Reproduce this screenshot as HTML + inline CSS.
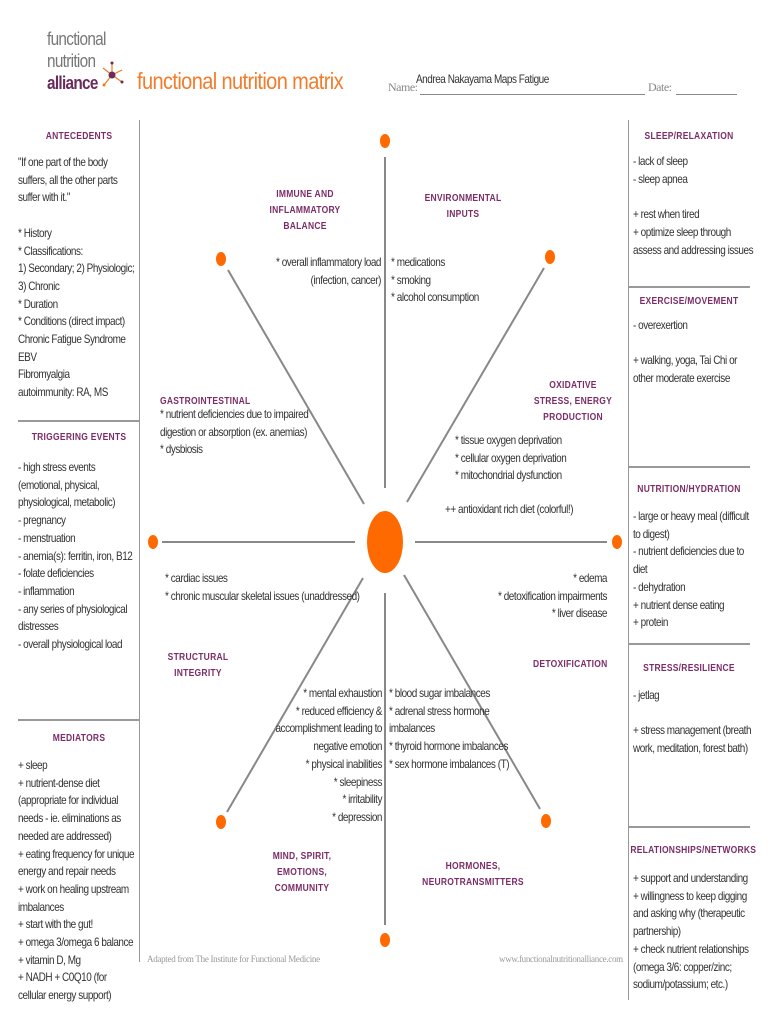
<!DOCTYPE html>
<html><head><meta charset="utf-8"><style>
body{margin:0;background:#fff;width:770px;height:1024px;position:relative;overflow:hidden;font-family:"Liberation Sans",sans-serif}
.t{position:absolute;font-size:12px;line-height:17.7px;letter-spacing:-0.55px;color:#333;white-space:nowrap;transform:scaleX(.83);transform-origin:0 0}
.t.r{text-align:right;transform-origin:100% 0}
.c{text-align:center}
.h{position:absolute;font-size:10px;line-height:16px;font-weight:bold;letter-spacing:0.3px;color:#7b2d67;white-space:nowrap;transform:scaleX(.85);transform-origin:0 0}
.h.c{transform-origin:50% 0}
.ln{position:absolute;background:#999}
</style></head><body>
<div style="position:absolute;left:47px;top:28px;font-size:18px;line-height:22px;color:#777;letter-spacing:-0.8px;transform:scaleX(.85);transform-origin:0 0">functional<br>nutrition</div>
<div style="position:absolute;left:47px;top:72px;font-size:18px;line-height:22px;color:#6b2a5c;font-weight:bold;letter-spacing:-0.8px;transform:scaleX(.85);transform-origin:0 0">alliance</div>
<svg style="position:absolute;left:100px;top:60px" width="24" height="30"><g stroke="#f07a20" stroke-width="1.2"><line x1="12" y1="15" x2="12" y2="3"/><line x1="12" y1="15" x2="22" y2="10"/><line x1="12" y1="15" x2="22" y2="22"/><line x1="12" y1="15" x2="4" y2="25"/><line x1="12" y1="15" x2="3" y2="8"/></g><circle cx="12" cy="15" r="3.5" fill="#6b2a5c"/><circle cx="12" cy="3" r="1.5" fill="#6b2a5c"/><circle cx="22" cy="22" r="1.5" fill="#6b2a5c"/><circle cx="4" cy="25" r="1.5" fill="#f07a20"/></svg>
<div style="position:absolute;left:137px;top:68px;font-size:23px;color:#f47b2a;letter-spacing:-0.7px;transform:scaleX(.87);transform-origin:0 0;white-space:nowrap">functional nutrition matrix</div>
<div style="position:absolute;left:388px;top:80px;font-family:'Liberation Serif',serif;font-size:12px;color:#888;letter-spacing:-0.5px">Name:</div>
<div style="position:absolute;left:420px;top:94px;width:225px;border-top:1px solid #888"></div>
<div class="t" style="left:416px;top:71px">Andrea Nakayama Maps Fatigue</div>
<div style="position:absolute;left:648px;top:80px;font-family:'Liberation Serif',serif;font-size:12px;color:#888;letter-spacing:-0.5px">Date:</div>
<div style="position:absolute;left:676px;top:94px;width:61px;border-top:1px solid #888"></div>

<div class="ln" style="left:139px;top:120px;width:1px;height:842px"></div>
<div class="ln" style="left:18px;top:420px;width:122px;height:2px"></div>
<div class="ln" style="left:18px;top:719px;width:122px;height:2px"></div>
<div class="ln" style="left:628px;top:120px;width:1px;height:880px"></div>
<div class="ln" style="left:628px;top:286px;width:122px;height:2px"></div>
<div class="ln" style="left:628px;top:466px;width:122px;height:2px"></div>
<div class="ln" style="left:628px;top:643px;width:122px;height:2px"></div>
<div class="ln" style="left:628px;top:826px;width:122px;height:2px"></div>

<div class="h c" style="left:18px;width:122px;top:129px">ANTECEDENTS</div>
<div class="t" style="left:18px;top:154px">"If one part of the body<br>suffers, all the other parts<br>suffer with it."<br><br>* History<br>* Classifications:<br>1) Secondary; 2) Physiologic;<br>3) Chronic<br>* Duration<br>* Conditions (direct impact)<br>Chronic Fatigue Syndrome<br>EBV<br>Fibromyalgia<br>autoimmunity: RA, MS</div>
<div class="h c" style="left:18px;width:122px;top:430px">TRIGGERING EVENTS</div>
<div class="t" style="left:18px;top:459px">- high stress events<br>(emotional, physical,<br>physiological, metabolic)<br>- pregnancy<br>- menstruation<br>- anemia(s): ferritin, iron, B12<br>- folate deficiencies<br>- inflammation<br>- any series of physiological<br>distresses<br>- overall physiological load</div>
<div class="h c" style="left:18px;width:122px;top:731px">MEDIATORS</div>
<div class="t" style="left:18px;top:757px">+ sleep<br>+ nutrient-dense diet<br>(appropriate for individual<br>needs - ie. eliminations as<br>needed are addressed)<br>+ eating frequency for unique<br>energy and repair needs<br>+ work on healing upstream<br>imbalances<br>+ start with the gut!<br>+ omega 3/omega 6 balance<br>+ vitamin D, Mg<br>+ NADH + C0Q10 (for<br>cellular energy support)</div>

<div class="h c" style="left:628px;width:122px;top:129px">SLEEP/RELAXATION</div>
<div class="t" style="left:633px;top:153px">- lack of sleep<br>- sleep apnea<br><br>+ rest when tired<br>+ optimize sleep through<br>assess and addressing issues</div>
<div class="h c" style="left:628px;width:122px;top:294px">EXERCISE/MOVEMENT</div>
<div class="t" style="left:633px;top:317px">- overexertion<br><br>+ walking, yoga, Tai Chi or<br>other moderate exercise</div>
<div class="h c" style="left:628px;width:122px;top:482px">NUTRITION/HYDRATION</div>
<div class="t" style="left:633px;top:508px">- large or heavy meal (difficult<br>to digest)<br>- nutrient deficiencies due to<br>diet<br>- dehydration<br>+ nutrient dense eating<br>+ protein</div>
<div class="h c" style="left:628px;width:122px;top:661px">STRESS/RESILIENCE</div>
<div class="t" style="left:633px;top:687px">- jetlag<br><br>+ stress management (breath<br>work, meditation, forest bath)</div>
<div class="h c" style="left:620px;width:138px;top:843px">RELATIONSHIPS/NETWORKS</div>
<div class="t" style="left:633px;top:870px">+ support and understanding<br>+ willingness to keep digging<br>and asking why (therapeutic<br>partnership)<br>+ check nutrient relationships<br>(omega 3/6: copper/zinc;<br>sodium/potassium; etc.)</div>

<svg style="position:absolute;left:0;top:0" width="770" height="1024">
<g stroke="#888" stroke-width="2">
<line x1="385" y1="157" x2="385" y2="488"/>
<line x1="385" y1="593" x2="385" y2="925"/>
<line x1="162" y1="542" x2="355" y2="542"/>
<line x1="415" y1="542" x2="607" y2="542"/>
<line x1="228" y1="270" x2="364" y2="504"/>
<line x1="544" y1="268" x2="407" y2="502"/>
<line x1="363" y1="578" x2="227" y2="812"/>
<line x1="404" y1="575" x2="540" y2="809"/>
</g>
<g fill="#ff6a00">
<ellipse cx="385" cy="542" rx="18" ry="31"/>
<ellipse cx="385" cy="141" rx="5" ry="7"/>
<ellipse cx="221" cy="259" rx="5" ry="7"/>
<ellipse cx="550" cy="257" rx="5" ry="7"/>
<ellipse cx="153" cy="542" rx="5" ry="7"/>
<ellipse cx="617" cy="542" rx="5" ry="7"/>
<ellipse cx="221" cy="822" rx="5" ry="7"/>
<ellipse cx="546" cy="821" rx="5" ry="7"/>
<ellipse cx="385" cy="940" rx="5" ry="7"/>
</g>
</svg>

<div class="h c" style="left:245px;width:120px;top:187px">IMMUNE AND<br>INFLAMMATORY<br>BALANCE</div>
<div class="h c" style="left:403px;width:120px;top:191px">ENVIRONMENTAL<br>INPUTS</div>
<div class="t r" style="left:200px;width:181px;top:254px">* overall inflammatory load<br>(infection, cancer)</div>
<div class="t" style="left:391px;top:254px">* medications<br>* smoking<br>* alcohol consumption</div>
<div class="h" style="left:160px;top:394px">GASTROINTESTINAL</div>
<div class="t" style="left:160px;top:406px">* nutrient deficiencies due to impaired<br>digestion or absorption (ex. anemias)<br>* dysbiosis</div>
<div class="h c" style="left:520px;width:106px;top:378px">OXIDATIVE<br>STRESS, ENERGY<br>PRODUCTION</div>
<div class="t" style="left:455px;top:432px">* tissue oxygen deprivation<br>* cellular oxygen deprivation<br>* mitochondrial dysfunction</div>
<div class="t" style="left:445px;top:501px">++ antioxidant rich diet (colorful!)</div>
<div class="t" style="left:165px;top:570px">* cardiac issues<br>* chronic muscular skeletal issues (unaddressed)</div>
<div class="t r" style="left:407px;width:200px;top:570px">* edema<br>* detoxification impairments<br>* liver disease</div>
<div class="h c" style="left:140px;width:116px;top:650px">STRUCTURAL<br>INTEGRITY</div>
<div class="h" style="left:533px;top:657px">DETOXIFICATION</div>
<div class="t r" style="left:182px;width:200px;top:685px">* mental exhaustion<br>* reduced efficiency &amp;<br>accomplishment leading to<br>negative emotion<br>* physical inabilities<br>* sleepiness<br>* irritability<br>* depression</div>
<div class="t" style="left:389px;top:685px">* blood sugar imbalances<br>* adrenal stress hormone<br>imbalances<br>* thyroid hormone imbalances<br>* sex hormone imbalances (T)</div>
<div class="h c" style="left:242px;width:120px;top:849px">MIND, SPIRIT,<br>EMOTIONS,<br>COMMUNITY</div>
<div class="h c" style="left:403px;width:140px;top:859px">HORMONES,<br>NEUROTRANSMITTERS</div>
<div style="position:absolute;left:147px;top:954px;font-family:'Liberation Serif',serif;font-size:9px;color:#999;letter-spacing:-0.3px;white-space:nowrap">Adapted from The Institute for Functional Medicine</div>
<div style="position:absolute;left:499px;top:954px;font-family:'Liberation Serif',serif;font-size:9px;color:#999;letter-spacing:-0.3px;white-space:nowrap">www.functionalnutritionalliance.com</div>
</body></html>
